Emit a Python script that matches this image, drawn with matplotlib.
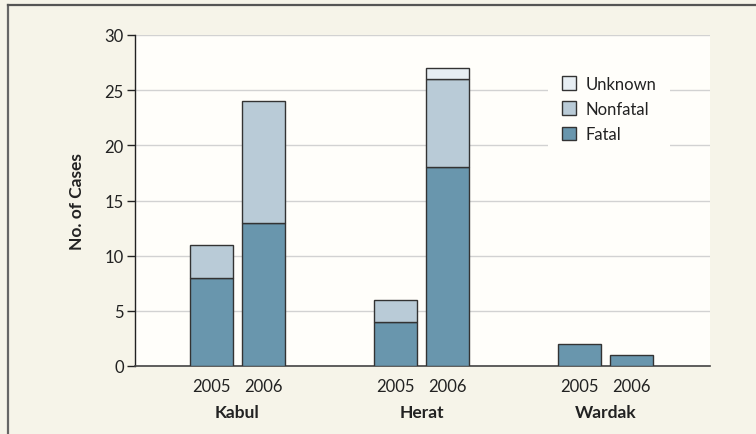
import matplotlib
matplotlib.use("Agg")
import matplotlib.pyplot as plt
from matplotlib.lines import Line2D
from matplotlib.patches import Patch
import matplotlib.transforms as mtransforms
import numpy as np

plt.rcParams["font.family"] = ["Lato", "DejaVu Sans"]

provinces = ["Kabul", "Herat", "Wardak"]
years = ["2005", "2006"]
# per province: [2005, 2006]
fatal = [[8, 13], [4, 18], [2, 1]]
nonfatal = [[3, 11], [2, 8], [0, 0]]
unknown = [[0, 0], [0, 1], [0, 0]]

FIG_BG = "#f6f4e9"
AX_BG = "#fffefa"
C_FATAL = "#6996ad"
C_NONFATAL = "#b9cbd7"
C_UNKNOWN = "#e7eef3"
EDGE = "#333333"
TXT = "#222222"

fig = plt.figure(figsize=(7.56, 4.35), dpi=100, facecolor=FIG_BG)
ax = fig.add_axes([135 / 756, 1 - 367 / 435, 575 / 756, 331 / 435])
ax.set_facecolor(AX_BG)

w = 0.234
off = 0.1413
xs, xlabels = [], []
for gi, prov in enumerate(provinces):
    for yi, yr in enumerate(years):
        x = gi + (off if yi else -off)
        f, n, u = fatal[gi][yi], nonfatal[gi][yi], unknown[gi][yi]
        ax.bar(x, f, w, color=C_FATAL, edgecolor=EDGE, linewidth=1.0, zorder=3)
        if n:
            ax.bar(x, n, w, bottom=f, color=C_NONFATAL, edgecolor=EDGE, linewidth=1.0, zorder=3)
        if u:
            ax.bar(x, u, w, bottom=f + n, color=C_UNKNOWN, edgecolor=EDGE, linewidth=1.0, zorder=3)
        xs.append(x)
        xlabels.append(yr)

ax.set_xlim(-0.557, 2.568)
ax.set_ylim(0, 30)
ax.set_yticks(np.arange(0, 31, 5))
ax.set_xticks(xs)
ax.set_xticklabels(xlabels, fontsize=12, color=TXT)
ax.tick_params(axis="x", length=0, pad=9)
ax.tick_params(axis="y", length=6, width=1.0, color=TXT, labelsize=12, labelcolor=TXT, pad=2)
ax.grid(axis="y", color="#d2d2d2", linewidth=1.0, zorder=0)
ax.set_axisbelow(True)
for s in ("top", "right"):
    ax.spines[s].set_visible(False)
ax.spines["left"].set_color(TXT)
ax.spines["bottom"].set_color("#444444")
ax.spines["left"].set_linewidth(1.0)
ax.spines["bottom"].set_linewidth(1.2)

trans = mtransforms.blended_transform_factory(ax.transData, ax.transAxes)
for gi, prov in enumerate(provinces):
    ax.text(gi, -0.14, prov, transform=trans, ha="center", va="center",
            fontsize=12.5, fontweight="bold", color=TXT)

ax.set_ylabel("No. of Cases", fontsize=12.5, fontweight="bold", color=TXT, labelpad=14)

handles = [Patch(facecolor=C_UNKNOWN, edgecolor=EDGE, label="Unknown"),
           Patch(facecolor=C_NONFATAL, edgecolor=EDGE, label="Nonfatal"),
           Patch(facecolor=C_FATAL, edgecolor=EDGE, label="Fatal")]
leg = ax.legend(handles=handles, loc="upper left", bbox_to_anchor=(405 / 575, 312 / 331),
                frameon=True, facecolor=AX_BG, edgecolor="none", framealpha=1,
                fontsize=12, handlelength=0.85, handleheight=0.85, handletextpad=0.6,
                labelspacing=0.55, borderpad=0.8, fancybox=False)
for t in leg.get_texts():
    t.set_color(TXT)

# figure frame (left and top)
fig.add_artist(Line2D([8 / 756, 8 / 756], [0, 1 - 5.5 / 435], transform=fig.transFigure,
                      color="#666666", linewidth=1.6))
fig.add_artist(Line2D([8 / 756, 1], [1 - 5.5 / 435, 1 - 5.5 / 435], transform=fig.transFigure,
                      color="#555555", linewidth=1.6))

fig.savefig("out.png", dpi=100, facecolor=FIG_BG)
